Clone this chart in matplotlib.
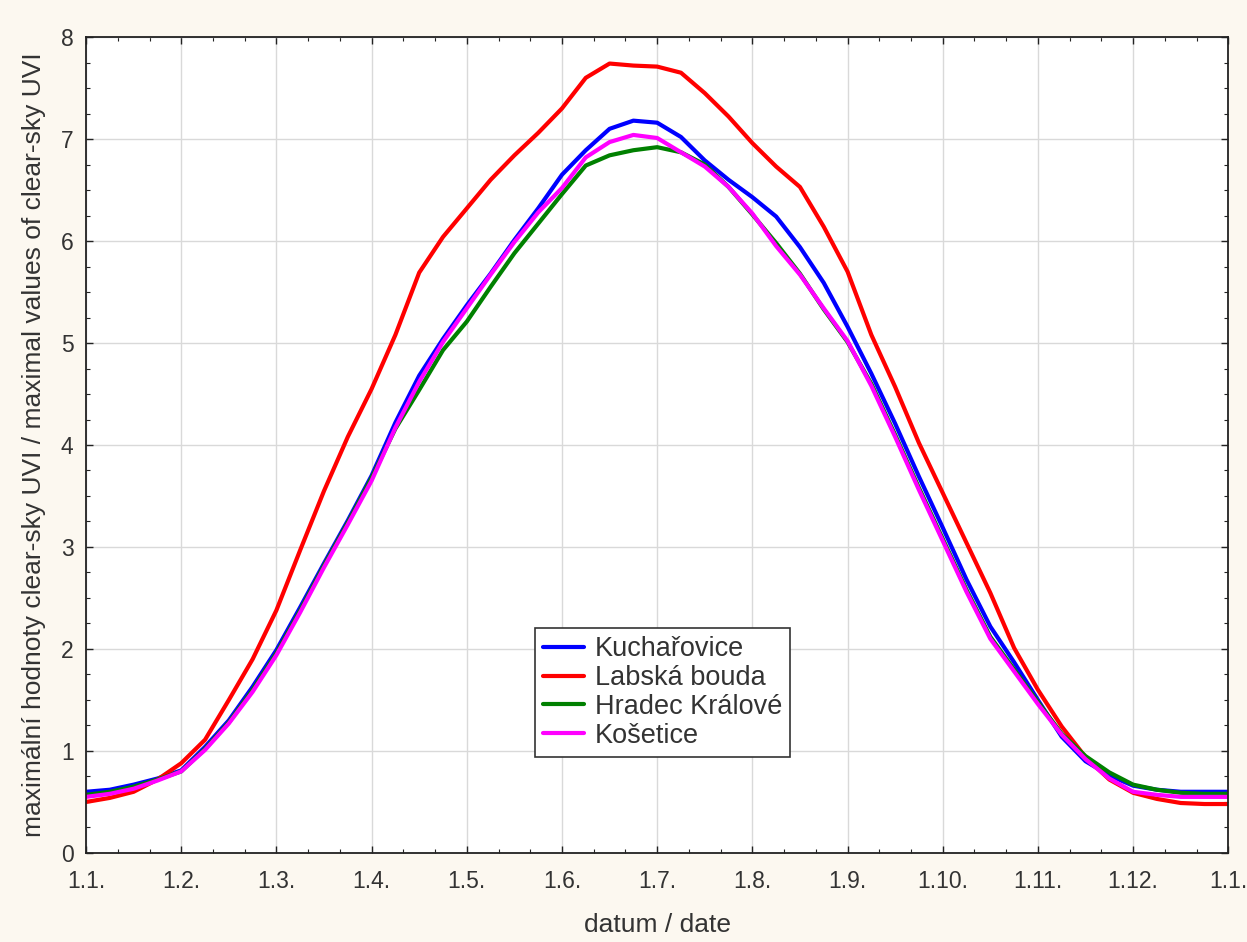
import numpy as np
import matplotlib
matplotlib.use('Agg')
import matplotlib.pyplot as plt
from matplotlib.ticker import MultipleLocator, AutoMinorLocator

# Mesice (poloha na ose x, 0 = 1.1., 12 = 1.1. dalsiho roku), odecet po ctvrt mesici
mesice = np.arange(0, 12.01, 0.25)

kucharovice = [0.60, 0.62, 0.67, 0.73, 0.81, 1.04, 1.30, 1.63, 1.99, 2.41, 2.84, 3.26,
               3.70, 4.22, 4.68, 5.04, 5.37, 5.68, 6.01, 6.32, 6.65, 6.89, 7.10, 7.18,
               7.16, 7.02, 6.79, 6.60, 6.43, 6.24, 5.94, 5.59, 5.16, 4.70, 4.21, 3.69,
               3.19, 2.68, 2.22, 1.87, 1.50, 1.14, 0.90, 0.76, 0.66, 0.62, 0.60, 0.60,
               0.60]
labska_bouda = [0.50, 0.54, 0.60, 0.72, 0.88, 1.11, 1.50, 1.90, 2.38, 2.97, 3.55, 4.08,
                4.55, 5.08, 5.69, 6.04, 6.32, 6.60, 6.84, 7.06, 7.30, 7.60, 7.74, 7.72,
                7.71, 7.65, 7.45, 7.22, 6.96, 6.73, 6.53, 6.14, 5.70, 5.08, 4.57, 4.02,
                3.53, 3.04, 2.55, 2.01, 1.60, 1.24, 0.94, 0.72, 0.59, 0.53, 0.49, 0.48,
                0.48]
hradec_kralove = [0.57, 0.60, 0.65, 0.72, 0.80, 1.02, 1.28, 1.60, 1.96, 2.38, 2.82, 3.24,
                  3.68, 4.16, 4.54, 4.93, 5.21, 5.55, 5.88, 6.17, 6.46, 6.74, 6.84, 6.89,
                  6.92, 6.87, 6.75, 6.53, 6.26, 5.98, 5.68, 5.33, 5.01, 4.60, 4.10, 3.58,
                  3.08, 2.58, 2.12, 1.80, 1.48, 1.17, 0.95, 0.79, 0.67, 0.62, 0.59, 0.58,
                  0.58]
kosetice = [0.55, 0.58, 0.63, 0.71, 0.80, 1.01, 1.27, 1.58, 1.94, 2.36, 2.80, 3.22,
            3.65, 4.17, 4.62, 5.01, 5.34, 5.67, 5.99, 6.28, 6.52, 6.82, 6.97, 7.04,
            7.01, 6.87, 6.73, 6.53, 6.27, 5.95, 5.67, 5.34, 5.02, 4.58, 4.08, 3.56,
            3.06, 2.56, 2.10, 1.78, 1.46, 1.16, 0.92, 0.73, 0.60, 0.57, 0.55, 0.55,
            0.55]

stanice = ['Kuchařovice', 'Labská bouda', 'Hradec Králové', 'Košetice']
barvy = ['#0000FF', '#FF0000', '#008000', '#FF00FF']
popisky_x = ['1.1.', '1.2.', '1.3.', '1.4.', '1.5.', '1.6.', '1.7.',
             '1.8.', '1.9.', '1.10.', '1.11.', '1.12.', '1.1.']

plt.rcParams['font.family'] = ['Liberation Sans', 'DejaVu Sans']
plt.rcParams['font.size'] = 16

fig = plt.figure(figsize=(12.47, 9.42), dpi=100, facecolor='#FCF8F0')
ax = fig.add_axes([0.069, 0.0945, 0.916, 0.8662])
ax.set_facecolor('white')

serie = [kucharovice, labska_bouda, hradec_kralove, kosetice]
for nazev, hodnoty, barva in zip(stanice, serie, barvy):
    ax.plot(mesice, hodnoty, color=barva, linewidth=3.0, label=nazev,
            solid_capstyle='round', solid_joinstyle='round')

ax.set_xlim(0, 12)
ax.set_ylim(0, 8)
ax.set_xticks(range(13))
ax.set_xticklabels(popisky_x)
ax.xaxis.set_minor_locator(AutoMinorLocator(3))
ax.yaxis.set_major_locator(MultipleLocator(1))
ax.yaxis.set_minor_locator(AutoMinorLocator(4))

ax.tick_params(which='both', direction='in', top=True, right=True, colors='#222222',
               labelcolor='#333333')
ax.tick_params(which='major', length=5, width=1, labelsize=16.5)
ax.tick_params(axis='x', which='major', pad=12)
ax.tick_params(axis='y', which='major', pad=9)
ax.tick_params(which='minor', length=3, width=0.8)

ax.grid(True, which='major', color='#D9D9D9', linewidth=1)
ax.set_axisbelow(True)
for s in ax.spines.values():
    s.set_color('#222222')
    s.set_linewidth(1.3)

ax.set_xlabel('datum / date', fontsize=19, color='#333333', labelpad=15)
ax.set_ylabel('maximální hodnoty clear-sky UVI / maximal values of clear-sky UVI',
              fontsize=19, color='#333333', labelpad=11)

leg = ax.legend(loc='lower left', bbox_to_anchor=(0.393, 0.118), fontsize=19.5,
                fancybox=False, framealpha=1, edgecolor='#333333', handlelength=1.5,
                labelspacing=0.1, borderpad=0.3, handletextpad=0.4, borderaxespad=0)
leg.get_frame().set_linewidth(1.2)
for t in leg.get_texts():
    t.set_color('#333333')

plt.savefig('out.png', dpi=100, facecolor=fig.get_facecolor())
plt.close()
